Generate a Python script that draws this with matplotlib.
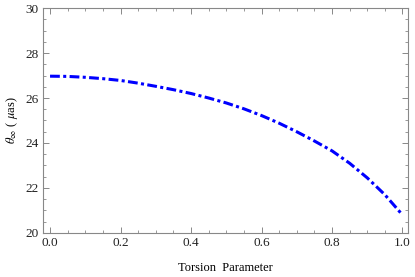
import matplotlib
matplotlib.use("Agg")
import matplotlib.pyplot as plt
from matplotlib.ticker import MultipleLocator, FormatStrFormatter

# torsion parameter vs shadow angular size
torsion = [0.0, 0.05, 0.1, 0.15, 0.2, 0.25, 0.3, 0.35, 0.4, 0.45, 0.5, 0.55,
           0.6, 0.65, 0.7, 0.75, 0.8, 0.85, 0.9, 0.95, 1.0]
theta = [26.97, 26.96, 26.92, 26.86, 26.78, 26.66, 26.52, 26.37, 26.2, 26.0,
         25.78, 25.52, 25.22, 24.88, 24.5, 24.09, 23.65, 23.1, 22.45, 21.7, 20.8]

plt.rcParams['font.family'] = ['Liberation Serif', 'DejaVu Serif']
plt.rcParams['mathtext.fontset'] = 'stix'

fig = plt.figure(figsize=(4.15, 2.77), dpi=100)
ax = fig.add_axes([0.1036, 0.159, 0.879, 0.812])

ax.plot(torsion, theta, color='blue', lw=2.2, dashes=(3.2, 1.1, 1.0, 1.1))

ax.set_xlim(-0.02, 1.015)
ax.set_ylim(20, 30)
ax.xaxis.set_major_locator(MultipleLocator(0.2))
ax.xaxis.set_minor_locator(MultipleLocator(0.05))
ax.yaxis.set_major_locator(MultipleLocator(2))
ax.yaxis.set_minor_locator(MultipleLocator(0.5))
ax.xaxis.set_major_formatter(FormatStrFormatter('%.1f'))

gray = '#888888'
for s in ax.spines.values():
    s.set_color(gray)
    s.set_linewidth(0.8)
ax.tick_params(which='both', direction='in', top=True, right=True, color=gray,
               labelsize=9.5, pad=3, labelcolor='#222222')
ax.tick_params(which='major', length=4, width=0.7)
ax.tick_params(which='minor', length=2, width=0.6)

ax.set_xlabel('Torsion  Parameter', fontsize=9, labelpad=9)
ax.set_ylabel(r'$\theta_{\infty}$ ( $\mu$as)', fontsize=9, labelpad=4)

fig.savefig('out.png', dpi=100)
